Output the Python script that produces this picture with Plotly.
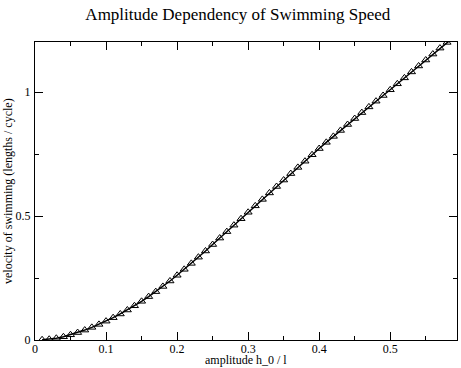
import plotly.graph_objects as go

# amplitude h_0 / l and swimming speed (lengths / cycle)
amplitude = [
    0.01, 0.02, 0.03, 0.04, 0.05, 0.06, 0.07, 0.08, 0.09, 0.10,
    0.11, 0.12, 0.13, 0.14, 0.15, 0.16, 0.17, 0.18, 0.19, 0.20,
    0.21, 0.22, 0.23, 0.24, 0.25, 0.26, 0.27, 0.28, 0.29, 0.30,
    0.31, 0.32, 0.33, 0.34, 0.35, 0.36, 0.37, 0.38, 0.39, 0.40,
    0.41, 0.42, 0.43, 0.44, 0.45, 0.46, 0.47, 0.48, 0.49, 0.50,
    0.51, 0.52, 0.53, 0.54, 0.55, 0.56, 0.57, 0.58, 0.59, 0.60,
]
velocity = [
    0.001, 0.003, 0.007, 0.013, 0.021, 0.030, 0.040, 0.051, 0.063, 0.076,
    0.090, 0.105, 0.121, 0.138, 0.156, 0.175, 0.195, 0.216, 0.238, 0.261,
    0.285, 0.309, 0.334, 0.359, 0.385, 0.411, 0.437, 0.463, 0.489, 0.515,
    0.541, 0.567, 0.593, 0.619, 0.645, 0.671, 0.696, 0.721, 0.747, 0.772,
    0.797, 0.821, 0.845, 0.869, 0.893, 0.917, 0.940, 0.963, 0.986, 1.009,
    1.033, 1.057, 1.081, 1.105, 1.129, 1.153, 1.177, 1.200, 1.223, 1.246,
]

x_ticks = [0, 0.1, 0.2, 0.3, 0.4, 0.5]
x_labels = ["0", "0.1", "0.2", "0.3", "0.4", "0.5"]
y_ticks = [0, 0.5, 1]
y_labels = ["0", "0.5", "1"]

serif = "Liberation Serif"

fig = go.Figure()
fig.add_trace(go.Scatter(
    x=amplitude,
    y=velocity,
    mode="lines+markers",
    line=dict(color="black", width=1.5),
    marker=dict(symbol="triangle-up-open", size=7, color="black",
                line=dict(width=1)),
    hoverinfo="skip",
))

axis_common = dict(
    automargin=False,
    showgrid=False,
    zeroline=False,
    showline=True,
    linecolor="black",
    linewidth=1,
    mirror="ticks",
    ticks="inside",
    ticklen=8,
    tickcolor="black",
    tickwidth=1,
    tickfont=dict(family=serif, size=12, color="black"),
)

fig.update_layout(
    width=461,
    height=368,
    margin=dict(l=35, r=4, t=42, b=28, autoexpand=False),
    paper_bgcolor="white",
    plot_bgcolor="white",
    showlegend=False,
    font=dict(family=serif, color="black"),
    title=dict(
        text="Amplitude Dependency of Swimming Speed",
        font=dict(family=serif, size=17, color="black"),
        x=0.516,
        xanchor="center",
        y=0.962,
        yanchor="middle",
    ),
    xaxis=dict(
        axis_common,
        range=[0, 0.594],
        tickvals=x_ticks,
        ticktext=x_labels,
        ticklabelstandoff=-2,
        minor=dict(ticks="inside", ticklen=4, dtick=0.05, tickcolor="black"),
    ),
    yaxis=dict(
        axis_common,
        range=[0, 1.2016],
        tickvals=y_ticks,
        ticktext=y_labels,
        ticklabelstandoff=1,
        minor=dict(ticks="inside", ticklen=4, dtick=0.25, tickcolor="black"),
    ),
    annotations=[
        dict(text="amplitude h_0 / l", x=0.5, y=0, xref="paper", yref="paper",
             xanchor="center", yanchor="middle", yshift=-19.5, showarrow=False,
             font=dict(family=serif, size=12, color="black")),
        dict(text="velocity of swimming (lengths / cycle)", x=0, y=0.5,
             xref="paper", yref="paper", xanchor="center", yanchor="middle",
             xshift=-27, textangle=-90, showarrow=False,
             font=dict(family=serif, size=12, color="black")),
    ],
)

# the page body has a default 8px margin; drop it so the figure fills the window
fig.write_html(
    "out.html",
    config={"displayModeBar": False},
    post_script="document.body.style.margin='0';document.body.style.overflow='hidden';",
)
